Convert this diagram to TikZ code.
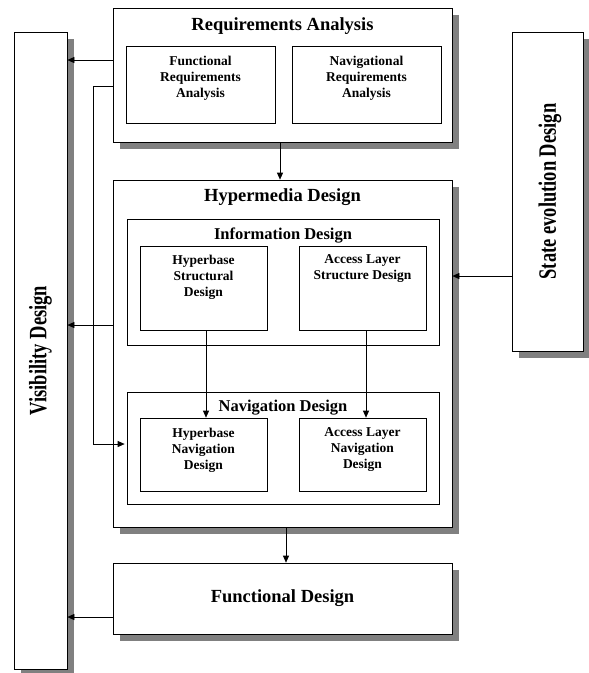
\documentclass[tikz,border=0pt]{standalone}
\usepackage{fontspec}
\setmainfont{Liberation Serif}
\usepackage{graphicx}
\usetikzlibrary{arrows.meta,shadows}
\definecolor{shadowgray}{HTML}{808080}
\begin{document}
\begin{tikzpicture}[x=1pt,y=-1pt,
  box/.style={draw=black, line width=0.7pt, fill=white, inner sep=0pt, rectangle},
  sbox/.style={box, general shadow={fill=shadowgray, shadow xshift=7pt, shadow yshift=-7pt}},
  ttl/.style={font=\fontsize{18.5}{22}\selectfont\bfseries, inner sep=0pt, anchor=base},
  sub/.style={font=\fontsize{16.5}{20}\selectfont\bfseries, inner sep=0pt, anchor=base},
  itx/.style={font=\fontsize{13.5}{16}\selectfont\bfseries, align=center, inner sep=0pt, anchor=north},
  vtx/.style={font=\fontsize{18.5}{22}\selectfont\bfseries, inner sep=0pt, rotate=90},
  arr/.style={draw=black, line width=0.7pt, -{Triangle[length=7pt,width=6pt]}}
]
\useasboundingbox (0,0) rectangle (589,673);
% Visibility Design
\node[sbox, minimum width=53pt, minimum height=637pt] (vis) at (40.5,350.5) {};
\node[vtx] (vis-t) at (40.5,350.5) {\scalebox{1}[1.35]{Visibility Design}};
% State evolution Design
\node[sbox, minimum width=71pt, minimum height=319pt] (sed) at (547.5,191.5) {};
\node[vtx] (sed-t) at (550,191.5) {\scalebox{1}[1.35]{State evolution Design}};
% Requirements Analysis
\node[sbox, minimum width=339pt, minimum height=134pt] (ra) at (282.5,75) {};
\node[ttl] (ra-t) at ([yshift=-23pt]ra.north) {Requirements Analysis};
\node[box, minimum width=149pt, minimum height=77pt] (fra) at (200.5,84.5) {};
\node[itx] (fra-t) at ([yshift=-9.8pt]fra.north) {Functional\\Requirements\\Analysis};
\node[box, minimum width=149pt, minimum height=77pt] (nra) at (366.5,84.5) {};
\node[itx] (nra-t) at ([yshift=-9.8pt]nra.north) {Navigational\\Requirements\\Analysis};
% Hypermedia Design
\node[sbox, minimum width=339pt, minimum height=347pt] (hd) at (282.5,353.5) {};
\node[ttl] (hd-t) at ([yshift=-22pt]hd.north) {Hypermedia Design};
\node[box, minimum width=312pt, minimum height=126pt] (id) at (283,282) {};
\node[sub] (id-t) at ([yshift=-21pt]id.north) {Information Design};
\node[box, minimum width=127pt, minimum height=84pt] (hsd) at (203.5,288) {};
\node[itx] (hsd-t) at ([yshift=-8.8pt]hsd.north) {Hyperbase\\Structural\\Design};
\node[box, minimum width=127pt, minimum height=84pt] (asd) at (362.5,288) {};
\node[itx] (asd-t) at ([yshift=-8.8pt]asd.north) {Access Layer\\Structure Design};
\node[box, minimum width=312pt, minimum height=112pt] (nd) at (283,448) {};
\node[sub] (nd-t) at ([yshift=-20pt]nd.north) {Navigation Design};
\node[box, minimum width=127pt, minimum height=73pt] (hnd) at (203.5,454.5) {};
\node[itx] (hnd-t) at ([yshift=-9.8pt]hnd.north) {Hyperbase\\Navigation\\Design};
\node[box, minimum width=127pt, minimum height=73pt] (aln) at (362.5,454.5) {};
\node[itx] (aln-t) at ([yshift=-9.8pt]aln.north) {Access Layer\\Navigation\\Design};
% Functional Design
\node[sbox, minimum width=339pt, minimum height=71pt, font=\fontsize{18.5}{22}\selectfont\bfseries] (fd) at (282.5,598.5) {Functional Design};
% connectors
\draw[arr] (ra.west |- 0,60) -- (vis.east |- 0,60);
\draw[arr] (ra.west |- 0,86) -- (93,86) |- ([xshift=-2pt]nd.west |- 0,444);
\draw[arr] (ra.south -| 280,0) -- (hd.north -| 280,0);
\draw[arr] (hd.west |- 0,325) -- (vis.east |- 0,325);
\draw[arr] (sed.west |- 0,276) -- (hd.east |- 0,276);
\draw[arr] (hsd.south -| 206,0) -- (hnd.north -| 206,0);
\draw[arr] (asd.south -| 366,0) -- (aln.north -| 366,0);
\draw[arr] (hd.south -| 286,0) -- (fd.north -| 286,0);
\draw[arr] (fd.west |- 0,617) -- (vis.east |- 0,617);
\end{tikzpicture}
\end{document}
